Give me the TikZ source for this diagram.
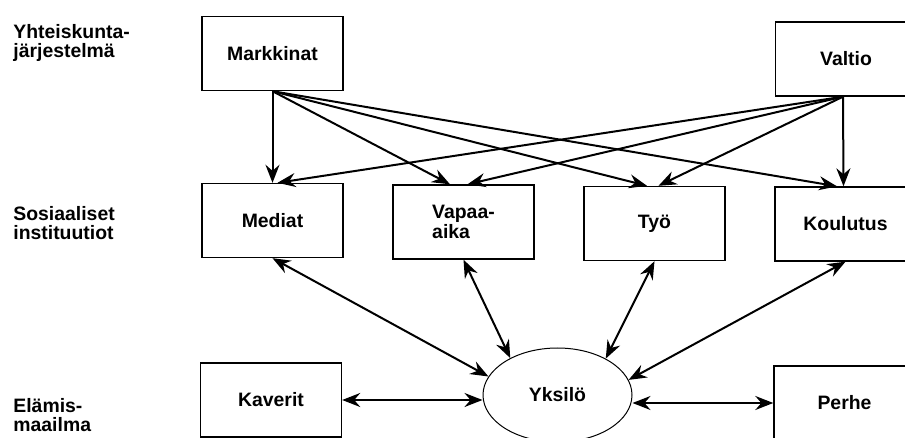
\documentclass[tikz,border=0pt]{standalone}
\usepackage{fontspec}
\setmainfont{Liberation Sans}
\usetikzlibrary{arrows.meta,shapes.geometric}

\begin{document}
\begin{tikzpicture}[x=0.5pt,y=-0.5pt,
	font=\fontsize{9.7}{9.7}\selectfont\bfseries,
	>={Stealth[length=9pt,width=7pt,inset=3pt]},
	every edge/.style={draw,line width=1pt},
	box/.style={shape=rectangle,draw=black,line width=0.7pt,minimum width=70.5pt,minimum height=37pt,align=left},
	lbl/.style={anchor=north west,align=left,inner sep=0pt}]
	\useasboundingbox (0,0) rectangle (905,438);

	\node[lbl] (l1) at (13, 24)      {Yhteiskunta-\\järjestelmä};
	\node[lbl] (l2) at (13, 206)     {Sosiaaliset\\instituutiot};
	\node[lbl] (l3) at (13, 398)     {Elämis-\\maailma};

	\node[box] (m) at (272.5, 53.5)  {Markkinat};
	\node[box] (val) at (846, 59)    {Valtio};
	\node[box] (med) at (272.5, 220.5) {Mediat};
	\node[box] (vap) at (463.5, 222) {Vapaa-\\aika};
	\node[box] (tyo) at (654.5, 223.5) {Työ};
	\node[box] (kou) at (845.5, 224) {Koulutus};
	\node[box] (kav) at (271, 400)   {Kaverit};
	\node[box] (per) at (844.5, 403) {Perhe};
	\node[shape=ellipse,draw=black,line width=0.5pt,minimum width=74.5pt,minimum height=47pt,inner sep=0pt] (yks) at (557.5, 395) {Yksilö};

	\path[->] (m.south) edge (med.north);
	\path[->] (m.south) edge ([xshift=-6.75pt]vap.north);
	\path[->] (m.south) edge ([xshift=-3.75pt]tyo.north);
	\path[->] (m.south) edge ([xshift=-4.25pt]kou.north);

	\path[->] ([xshift=-1.5pt]val.south) edge ([xshift=2.5pt]med.north);
	\path[->] ([xshift=-1.5pt]val.south) edge ([xshift=2pt]vap.north);
	\path[->] ([xshift=-1.5pt]val.south) edge ([xshift=2pt]tyo.north);
	\path[->] ([xshift=-1.5pt]val.south) edge ([xshift=-1pt]kou.north);

	\path[<->] (med.south) edge (yks.165);
	\path[<->] (vap.south) edge (yks.142);
	\path[<->] (tyo.south) edge (yks.37);
	\path[<->] (kou.south) edge (yks.12);
	\path[<->] (kav.east) edge (kav.east -| yks.west);
	\path[<->] (per.west -| yks.east) edge (per.west);

\end{tikzpicture}
\end{document}
